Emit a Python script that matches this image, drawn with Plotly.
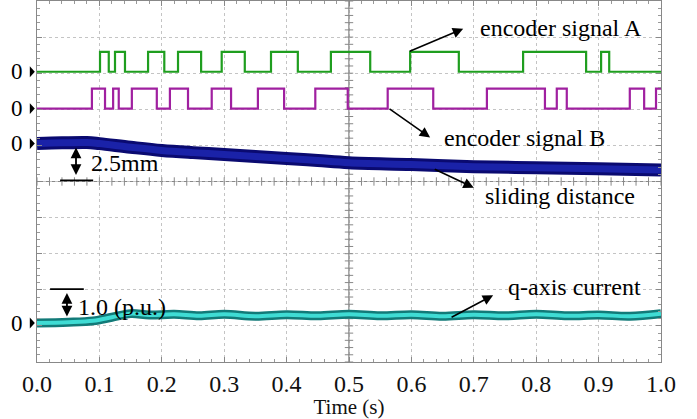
import numpy as np
import plotly.graph_objects as go

# ---------------- data ----------------
time_ticks = [0.0, 0.1, 0.2, 0.3, 0.4, 0.5, 0.6, 0.7, 0.8, 0.9, 1.0]
time_tick_labels = ["0.0", "0.1", "0.2", "0.3", "0.4", "0.5", "0.6", "0.7", "0.8", "0.9", "1.0"]

# encoder A (divisions): low/high levels and switching instants (s), starts low
enc_a_levels = [3.04, 3.59]
enc_a_edges = [0.101, 0.115, 0.125, 0.141, 0.178, 0.204, 0.226, 0.263, 0.296, 0.333,
               0.375, 0.418, 0.471, 0.534, 0.598, 0.676, 0.779, 0.880, 0.904, 0.917]
# encoder B
enc_b_levels = [2.02, 2.57]
enc_b_edges = [0.088, 0.109, 0.122, 0.131, 0.152, 0.192, 0.213, 0.242, 0.280, 0.311,
               0.354, 0.396, 0.446, 0.498, 0.562, 0.635, 0.721, 0.814, 0.833, 0.849,
               0.950, 0.973, 0.992]

# sliding distance (divisions, 2.5 mm/div)
slide_t = [0, 0.04, 0.08, 0.1, 0.15, 0.2, 0.25, 0.3, 0.35, 0.4, 0.45, 0.5, 0.6, 0.7, 0.8, 0.9, 1.0]
slide_v = [1.05, 1.07, 1.08, 1.05, 0.95, 0.86, 0.80, 0.75, 0.69, 0.64, 0.58, 0.52, 0.47, 0.41, 0.38, 0.35, 0.32]

# q-axis current (divisions, 1.0 p.u./div)
iq_t = [0, 0.05, 0.09, 0.12, 0.15, 0.18, 0.22, 0.26, 0.30, 0.35, 0.40, 0.45, 0.5, 0.55,
        0.6, 0.65, 0.7, 0.75, 0.8, 0.85, 0.9, 0.95, 1.0]
iq_v = [-3.92, -3.90, -3.86, -3.76, -3.66, -3.70, -3.68, -3.72, -3.68, -3.73, -3.69, -3.72,
        -3.68, -3.72, -3.69, -3.73, -3.69, -3.72, -3.68, -3.72, -3.70, -3.73, -3.66]

zero_levels = [3.04, 2.02, 1.05, -3.92]

FONT = "Liberation Serif"


def square_wave(edges, levels):
    xs, ys = [0.0], [levels[0]]
    state = 0
    for e in edges:
        state = 1 - state
        xs.append(e)
        ys.append(levels[state])
    xs.append(1.0)
    ys.append(levels[state])
    return xs, ys


fig = go.Figure()

# centre-line tick marks
cy = np.round(np.arange(-5, 5.001, 0.2), 3)
fig.add_trace(go.Scatter(x=[0.5] * len(cy), y=cy, mode="markers",
                         marker=dict(symbol="line-ew", size=6, line=dict(color="#888", width=1)),
                         hoverinfo="skip", showlegend=False))
cx = np.round(np.arange(0, 1.0001, 0.02), 3)
fig.add_trace(go.Scatter(x=cx, y=[0] * len(cx), mode="markers",
                         marker=dict(symbol="line-ns", size=6, line=dict(color="#888", width=1)),
                         hoverinfo="skip", showlegend=False))

ax_, ay_ = square_wave(enc_a_edges, enc_a_levels)
fig.add_trace(go.Scatter(x=ax_, y=ay_, mode="lines", line=dict(color="#1f9e1f", width=2.2, shape="hv"),
                         showlegend=False))
bx_, by_ = square_wave(enc_b_edges, enc_b_levels)
fig.add_trace(go.Scatter(x=bx_, y=by_, mode="lines", line=dict(color="#a020a0", width=2.2, shape="hv"),
                         showlegend=False))

fig.add_trace(go.Scatter(x=slide_t, y=slide_v, mode="lines", line=dict(color="#0a0a70", width=13, shape="spline"),
                         showlegend=False))
fig.add_trace(go.Scatter(x=slide_t, y=slide_v, mode="lines", line=dict(color="#1a22a8", width=7, shape="spline"),
                         showlegend=False))

fig.add_trace(go.Scatter(x=iq_t, y=iq_v, mode="lines", line=dict(color="#127a78", width=9, shape="spline"),
                         showlegend=False))
fig.add_trace(go.Scatter(x=iq_t, y=iq_v, mode="lines", line=dict(color="#3fdcd4", width=4, shape="spline"),
                         showlegend=False))

annotations = []
shapes = []
for z in zero_levels:
    annotations.append(dict(x=-0.032, y=z, xref="paper", yref="y", text="0", showarrow=False,
                            xanchor="center", yanchor="middle",
                            font=dict(family=FONT, size=23, color="black")))
    shapes.append(dict(type="path", xref="paper", yref="y",
                       path=f"M -0.0115 {z + 0.15} L -0.0035 {z} L -0.0115 {z - 0.15} Z",
                       fillcolor="black", line=dict(width=0)))

labels = [
    ("encoder signal A", 0.840, 4.25),
    ("encoder signal B", 0.782, 1.20),
    ("sliding distance", 0.838, -0.41),
    ("q-axis current", 0.861, -2.93),
    ("2.5mm", 0.141, 0.50),
    ("1.0 (p.u.)", 0.136, -3.48),
]
for txt, x, y in labels:
    annotations.append(dict(x=x, y=y, xref="x", yref="y", text=txt, showarrow=False,
                            xanchor="center", yanchor="middle",
                            font=dict(family=FONT, size=24, color="black")))

arrows = [  # head (x, y), tail (x, y)
    (0.683, 4.23, 0.595, 3.59),
    (0.630, 1.22, 0.5625, 2.04),
    (0.700, -0.17, 0.635, 0.36),
    (0.731, -3.15, 0.662, -3.78),
]
for hx, hy, tx, ty in arrows:
    annotations.append(dict(x=hx, y=hy, ax=tx, ay=ty, xref="x", yref="y", axref="x", ayref="y",
                            text="", showarrow=True, arrowhead=2, arrowsize=1.3, arrowwidth=1.6,
                            arrowcolor="black", standoff=0, startstandoff=0))

# scale double arrows
for x, y0, y1 in [(0.0625, 0.94, 0.14), (0.048, -3.09, -3.78)]:
    annotations.append(dict(x=x, y=y0, ax=x, ay=y1, xref="x", yref="y", axref="x", ayref="y",
                            text="", showarrow=True, arrowhead=2, startarrowhead=2, arrowside="end+start",
                            arrowsize=1.2, arrowwidth=1.8, arrowcolor="black", standoff=0, startstandoff=0))

shapes += [
    dict(type="line", x0=0.5, x1=0.5, y0=-5, y1=5, xref="x", yref="y", line=dict(color="#777", width=1.3), layer="below"),
    dict(type="line", x0=0, x1=1, y0=0, y1=0, xref="x", yref="y", line=dict(color="#888", width=1.2), layer="below"),
    dict(type="line", x0=0.037, x1=0.090, y0=0.03, y1=0.03, xref="x", yref="y", line=dict(color="black", width=1.8)),
    dict(type="line", x0=0.021, x1=0.075, y0=-2.98, y1=-2.98, xref="x", yref="y", line=dict(color="black", width=1.8)),
]

fig.update_layout(
    width=697, height=419,
    margin=dict(l=37, r=36, t=1, b=57),
    paper_bgcolor="white", plot_bgcolor="white",
    font=dict(family=FONT, color="black"),
    annotations=annotations, shapes=shapes,
    xaxis=dict(range=[0, 1], tickvals=time_ticks, ticktext=time_tick_labels,
               tickfont=dict(family=FONT, size=24, color="#111"),
               showgrid=True, gridcolor="#c4c4c4", griddash="dot", gridwidth=1,
               ticks="inside", ticklen=5, tickcolor="#888",
               minor=dict(dtick=0.02, ticks="inside", ticklen=3, tickcolor="#999", showgrid=False),
               showline=True, linecolor="#888", linewidth=1.2, mirror="ticks", zeroline=False,
               title=dict(text="Time (s)", font=dict(family=FONT, size=21, color="#111"), standoff=0)),
    yaxis=dict(range=[-5, 5], dtick=1, showticklabels=False,
               showgrid=True, gridcolor="#c4c4c4", griddash="dot", gridwidth=1,
               ticks="inside", ticklen=5, tickcolor="#888",
               minor=dict(dtick=0.2, ticks="inside", ticklen=3, tickcolor="#999", showgrid=False),
               showline=True, linecolor="#888", linewidth=1.2, mirror="ticks", zeroline=False),
)

fig.write_html("out.html")
